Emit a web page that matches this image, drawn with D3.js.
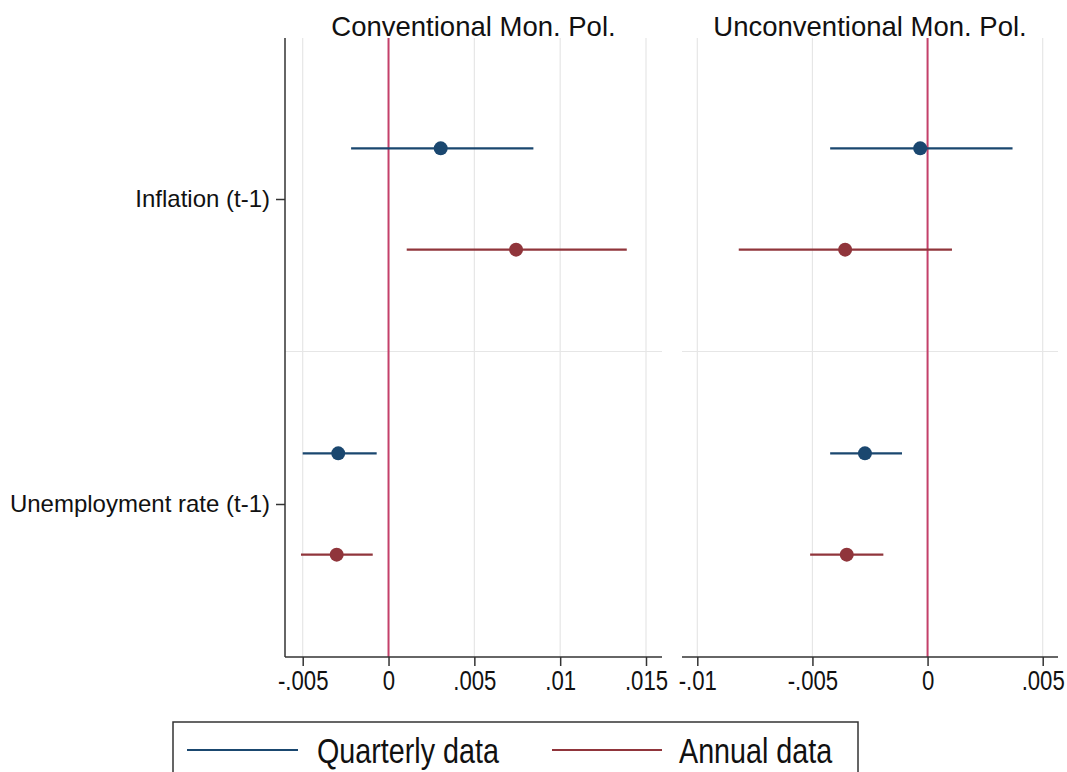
<!DOCTYPE html>
<html>
<head>
<meta charset="utf-8">
<script src="https://cdn.jsdelivr.net/npm/d3@7"></script>
<style>
  body { margin: 0; background: #fff; }
  svg { display: block; }
</style>
</head>
<body>
<div id="vis"></div>
<script>
// categories and panel titles
var categories = ['Inflation (t-1)', 'Unemployment rate (t-1)'];
var panelTitles = ['Conventional Mon. Pol.', 'Unconventional Mon. Pol.'];
var seriesNames = ['Quarterly data', 'Annual data'];

// conventional monetary policy
var convQuarterlyCoef = [0.00304, -0.00293];
var convQuarterlyLo = [-0.00218, -0.00500];
var convQuarterlyHi = [0.00844, -0.00069];
var convAnnualCoef = [0.00743, -0.00302];
var convAnnualLo = [0.00106, -0.00510];
var convAnnualHi = [0.01388, -0.00092];

// unconventional monetary policy
var uncQuarterlyCoef = [-0.00032, -0.00272];
var uncQuarterlyLo = [-0.00423, -0.00423];
var uncQuarterlyHi = [0.00369, -0.00111];
var uncAnnualCoef = [-0.00358, -0.00351];
var uncAnnualLo = [-0.00820, -0.00510];
var uncAnnualHi = [0.00106, -0.00192];

// tick labels
var convTicks = [-0.005, 0, 0.005, 0.01, 0.015];
var uncTicks = [-0.01, -0.005, 0, 0.005];

var width = 1067, height = 772;
var top_ = 38, bottom = 657;
var colours = ['#1a476f', '#90353b'];
var zeroColour = '#c4406a';
var offsets = [-0.166, 0.166];
var narrow = 0.82; // the original uses a condensed face for ticks and legend

var svg = d3.select('#vis')
    .append('svg')
    .attr('width', width)
    .attr('height', height)
    .style('font-family', '"Liberation Sans", Arial, sans-serif');

var y_scale = d3.scaleLinear()
    .domain([1, 2])
    .range([199, 504]);

function build(coef, lo, hi) {
    return coef.map(function(c, i) {
        return { cat: i, coef: c, lo: lo[i], hi: hi[i] };
    });
}

function condense(sel) {
    sel.each(function() {
        var w = this.getComputedTextLength();
        d3.select(this)
            .attr('textLength', w * narrow)
            .attr('lengthAdjust', 'spacingAndGlyphs');
    });
}

var panels = [
    {
        title: panelTitles[0],
        extent: [285, 662],
        x: d3.scaleLinear().domain([-0.005, 0.015]).range([302.7, 646]),
        ticks: convTicks,
        series: [build(convQuarterlyCoef, convQuarterlyLo, convQuarterlyHi),
                 build(convAnnualCoef, convAnnualLo, convAnnualHi)],
        yaxis: true
    },
    {
        title: panelTitles[1],
        extent: [682, 1058],
        x: d3.scaleLinear().domain([-0.01, 0.005]).range([697.3, 1042.7]),
        ticks: uncTicks,
        series: [build(uncQuarterlyCoef, uncQuarterlyLo, uncQuarterlyHi),
                 build(uncAnnualCoef, uncAnnualLo, uncAnnualHi)],
        yaxis: false
    }
];

// stata style: no leading zero, plain hyphen
function fmt(v) {
    if (v === 0) return '0';
    var s = String(+v.toFixed(4));
    return s.replace(/^(-?)0\./, '$1.');
}

panels.forEach(function(p) {
    var g = svg.append('g');
    var x = p.x;

    // vertical grid
    g.selectAll('.vgrid')
        .data(p.ticks)
        .enter()
        .append('line')
        .attr('x1', function(d) { return x(d); })
        .attr('x2', function(d) { return x(d); })
        .attr('y1', top_)
        .attr('y2', bottom)
        .attr('stroke', '#e6e6e6')
        .attr('stroke-width', 1.2);

    // horizontal grid between categories
    g.append('line')
        .attr('x1', p.extent[0])
        .attr('x2', p.extent[1])
        .attr('y1', y_scale(1.5))
        .attr('y2', y_scale(1.5))
        .attr('stroke', '#e6e6e6')
        .attr('stroke-width', 1.2);

    // zero line
    g.append('line')
        .attr('x1', x(0))
        .attr('x2', x(0))
        .attr('y1', top_)
        .attr('y2', bottom)
        .attr('stroke', zeroColour)
        .attr('stroke-width', 2);

    // x axis
    var x_axis = d3.axisBottom(x)
        .tickValues(p.ticks)
        .tickFormat(fmt)
        .tickSize(9)
        .tickPadding(5);
    var ax = g.append('g')
        .attr('transform', 'translate(0,' + bottom + ')')
        .call(x_axis);
    ax.select('.domain')
        .attr('d', 'M' + p.extent[0] + ',0H' + p.extent[1])
        .attr('stroke', '#333')
        .attr('stroke-width', 1.5);
    ax.selectAll('.tick line').attr('stroke', '#333').attr('stroke-width', 1.5);
    ax.selectAll('.tick text')
        .attr('fill', '#111')
        .style('font-family', '"Liberation Sans", Arial, sans-serif')
        .style('font-size', '27px')
        .call(condense);

    // y axis
    if (p.yaxis) {
        var y_axis = d3.axisLeft(y_scale)
            .tickValues([1, 2])
            .tickFormat(function(d) { return categories[d - 1]; })
            .tickSize(9)
            .tickPadding(6);
        var ay = g.append('g')
            .attr('transform', 'translate(' + p.extent[0] + ',0)')
            .call(y_axis);
        ay.select('.domain')
            .attr('d', 'M0,' + top_ + 'V' + bottom)
            .attr('stroke', '#333')
            .attr('stroke-width', 1.5);
        ay.selectAll('.tick line').attr('stroke', '#333').attr('stroke-width', 1.5);
        ay.selectAll('.tick text')
            .attr('fill', '#111')
            .style('font-family', '"Liberation Sans", Arial, sans-serif')
            .style('font-size', '24px');
    }

    // title
    g.append('text')
        .attr('x', (p.extent[0] + p.extent[1]) / 2)
        .attr('y', 36)
        .attr('text-anchor', 'middle')
        .attr('fill', '#111')
        .style('font-size', '27.5px')
        .text(p.title);

    // confidence intervals and points
    p.series.forEach(function(s, si) {
        g.selectAll('.ci' + si)
            .data(s)
            .enter()
            .append('line')
            .attr('x1', function(d) { return x(d.lo); })
            .attr('x2', function(d) { return x(d.hi); })
            .attr('y1', function(d) { return y_scale(d.cat + 1 + offsets[si]); })
            .attr('y2', function(d) { return y_scale(d.cat + 1 + offsets[si]); })
            .attr('stroke', colours[si])
            .attr('stroke-width', 2.2);
        g.selectAll('.pt' + si)
            .data(s)
            .enter()
            .append('circle')
            .attr('cx', function(d) { return x(d.coef); })
            .attr('cy', function(d) { return y_scale(d.cat + 1 + offsets[si]); })
            .attr('r', 7)
            .attr('fill', colours[si]);
    });
});

// legend
var legend = svg.append('g');
legend.append('rect')
    .attr('x', 173)
    .attr('y', 722)
    .attr('width', 685)
    .attr('height', 70)
    .attr('fill', 'none')
    .attr('stroke', '#333')
    .attr('stroke-width', 1.5);

var legendX = [[187, 298, 317], [552, 662, 679]];
seriesNames.forEach(function(name, i) {
    legend.append('line')
        .attr('x1', legendX[i][0])
        .attr('x2', legendX[i][1])
        .attr('y1', 750)
        .attr('y2', 750)
        .attr('stroke', colours[i])
        .attr('stroke-width', 2);
    legend.append('text')
        .attr('x', legendX[i][2])
        .attr('y', 763)
        .attr('fill', '#111')
        .style('font-family', '"Liberation Sans", Arial, sans-serif')
        .style('font-size', '35px')
        .text(name)
        .call(condense);
});
</script>
</body>
</html>
